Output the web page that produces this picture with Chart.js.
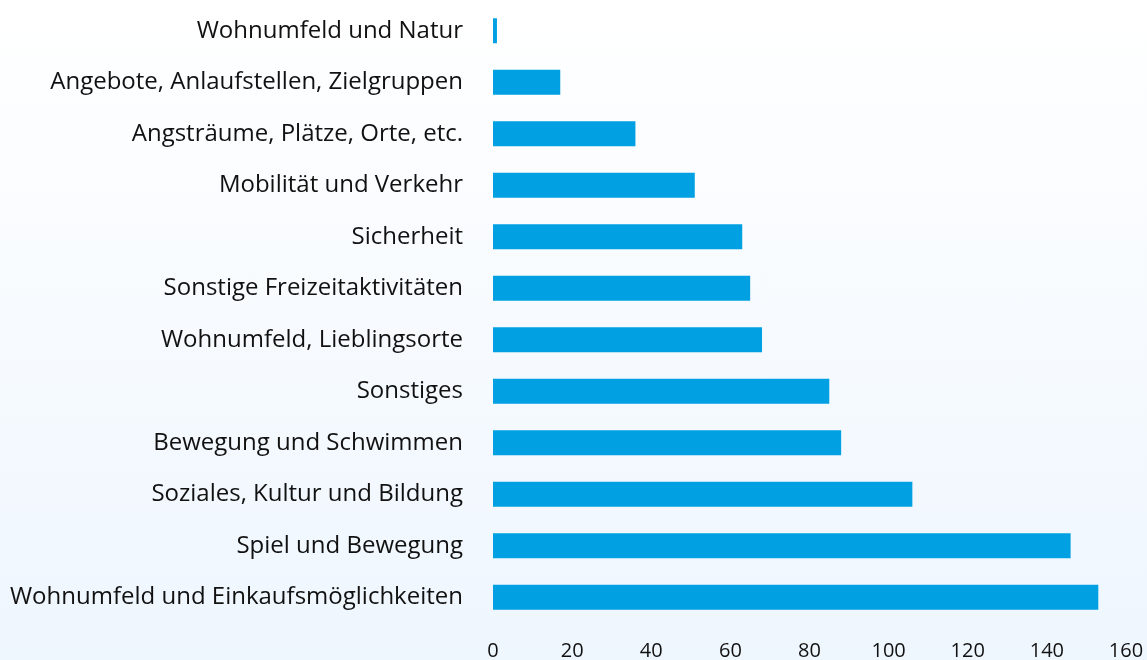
<!DOCTYPE html>
<html lang="de">
<head>
<meta charset="UTF-8">
<title>Themen</title>
<script src="https://cdn.jsdelivr.net/npm/chart.js"></script>
<style>
  html, body { margin: 0; padding: 0; }
  body { width: 1147px; height: 660px; background: linear-gradient(#ffffff, #eef6fe); overflow: hidden; }
  #wrap { width: 1147px; height: 660px; position: relative; }
</style>
</head>
<body>
<div id="wrap"><canvas id="chart"></canvas></div>
<script>
const categories = [
  'Wohnumfeld und Natur',
  'Angebote, Anlaufstellen, Zielgruppen',
  'Angsträume, Plätze, Orte, etc.',
  'Mobilität und Verkehr',
  'Sicherheit',
  'Sonstige Freizeitaktivitäten',
  'Wohnumfeld, Lieblingsorte',
  'Sonstiges',
  'Bewegung und Schwimmen',
  'Soziales, Kultur und Bildung',
  'Spiel und Bewegung',
  'Wohnumfeld und Einkaufsmöglichkeiten'
];
const values = [1, 17, 36, 51, 63, 65, 68, 85, 88, 106, 146, 153];
const xTicks = [0, 20, 40, 60, 80, 100, 120, 140, 160];

new Chart(document.getElementById('chart'), {
  type: 'bar',
  data: {
    labels: categories,
    datasets: [{
      data: values,
      backgroundColor: '#00a0e2',
      barPercentage: 0.97,
      categoryPercentage: 0.5
    }]
  },
  options: {
    indexAxis: 'y',
    responsive: true,
    maintainAspectRatio: false,
    animation: false,
    layout: { padding: { top: 5, right: 21, bottom: 0, left: 0 } },
    plugins: { legend: { display: false }, tooltip: { enabled: false } },
    scales: {
      x: {
        min: 0, max: 160,
        grid: { display: false },
        border: { display: false },
        afterBuildTicks: s => { s.ticks = xTicks.map(v => ({ value: v })); },
        afterFit: s => { s.height = 37; s.paddingLeft = 0; s.paddingRight = 0; },
        ticks: { color: '#111', padding: 8, font: { family: 'Open Sans', size: 20 } }
      },
      y: {
        grid: { display: false },
        border: { display: false },
        afterFit: s => { s.width = 493; s.paddingTop = 0; s.paddingBottom = 0; },
        ticks: { color: '#111', padding: 22, font: { family: 'Open Sans', size: 24 } }
      }
    }
  }
});
</script>
</body>
</html>
